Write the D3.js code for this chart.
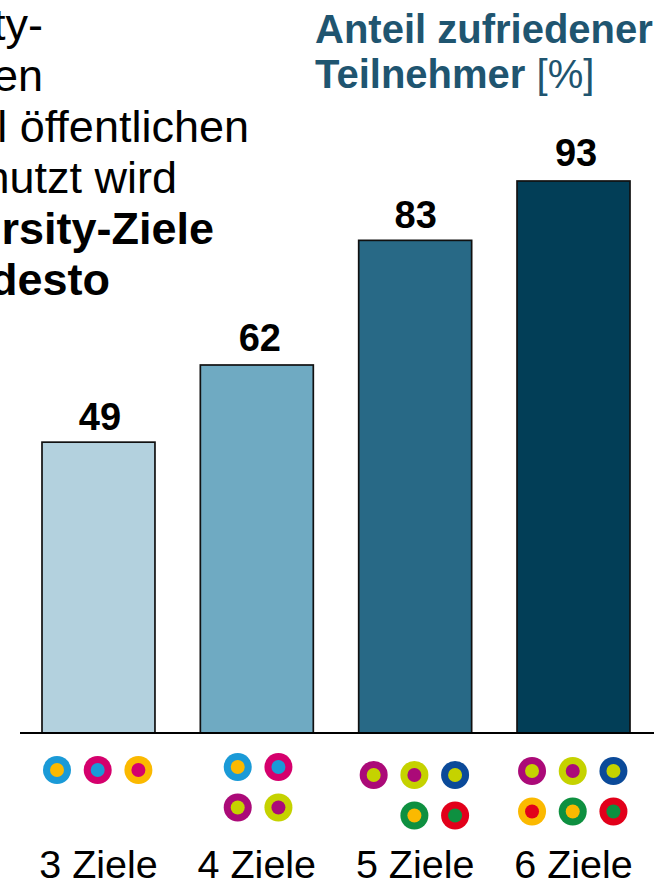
<!DOCTYPE html>
<html><head><meta charset="utf-8">
<script src="https://cdnjs.cloudflare.com/ajax/libs/d3/7.8.5/d3.min.js"></script>
<style>html,body{margin:0;padding:0;background:#fff;overflow:hidden}svg{display:block}text{font-family:"Liberation Sans",Arial,sans-serif}</style>
</head><body><svg id="c" width="666" height="881"></svg>
<script>
const categories = ["3 Ziele","4 Ziele","5 Ziele","6 Ziele"];
const barValues = [49,62,83,93];
const barColors = ["#b3d1de","#6faac2","#286986","#023e57"];
const titleBold = ["Anteil zufriedener","Teilnehmer"];
const titleUnit = "[%]";
const noteLines = ["ty-","en","l öffentlichen","nutzt wird","rsity-Ziele","desto"];
const noteBold = [false,false,false,false,true,true];
const noteRight = [43,43,249,177,214,110];
const goalDots = [
 [{c:0,r:0,o:"#1a9ad7",i:"#fbb900"},{c:1,r:0,o:"#d5006d",i:"#1a9ad7"},{c:2,r:0,o:"#fbb900",i:"#d5006d"}],
 [{c:.55,r:0,o:"#1a9ad7",i:"#fbb900"},{c:1.55,r:0,o:"#d5006d",i:"#1a9ad7"},{c:.55,r:1,o:"#ab0a78",i:"#c5d200"},{c:1.55,r:1,o:"#c5d200",i:"#ab0a78"}],
 [{c:0,r:0,o:"#ab0a78",i:"#c5d200"},{c:1,r:0,o:"#c5d200",i:"#ab0a78"},{c:2,r:0,o:"#0b4a99",i:"#c5d200"},{c:1,r:1,o:"#0e9040",i:"#fbb900"},{c:2,r:1,o:"#e2001a",i:"#0e9040"}],
 [{c:0,r:0,o:"#ab0a78",i:"#c5d200"},{c:1,r:0,o:"#c5d200",i:"#ab0a78"},{c:2,r:0,o:"#0b4a99",i:"#c5d200"},{c:0,r:1,o:"#fbb900",i:"#e2001a"},{c:1,r:1,o:"#0e9040",i:"#fbb900"},{c:2,r:1,o:"#e2001a",i:"#0e9040"}]
];
const dotTop = [770,767,775,771];
const labelShift = [1.5,3,0.5,2.5];
const labelLift = [12.5,14.5,12.5,15];

const svg = d3.select("#c");
const x = d3.scaleBand().domain(categories).range([42,630]).paddingInner(0.2866).paddingOuter(0);
const bw = x.bandwidth();
const y = d3.scaleLinear().domain([0,93]).range([733,181]);

svg.selectAll("rect.bar").data(categories).join("rect").attr("class","bar")
  .attr("x",d=>x(d)).attr("width",bw)
  .attr("y",(d,i)=>y(barValues[i])).attr("height",(d,i)=>y(0)-y(barValues[i]))
  .attr("fill",(d,i)=>barColors[i]).attr("stroke","#111").attr("stroke-width",1.7);

svg.append("line").attr("x1",20).attr("x2",654).attr("y1",y(0)).attr("y2",y(0)).attr("stroke","#000").attr("stroke-width",2);

svg.selectAll("text.val").data(categories).join("text").attr("class","val")
  .attr("x",(d,i)=>x(d)+bw/2+labelShift[i]).attr("y",(d,i)=>y(barValues[i])-labelLift[i])
  .attr("text-anchor","middle").attr("font-size",38).attr("font-weight","bold").attr("fill","#000")
  .text((d,i)=>barValues[i]);

svg.selectAll("text.cat").data(categories).join("text").attr("class","cat")
  .attr("x",d=>x(d)+bw/2).attr("y",878)
  .attr("text-anchor","middle").attr("font-size",39.5).attr("fill","#000").text(d=>d);

const dotX = d3.scaleLinear().domain([0,1]).range([15,55.7]);
const dotY = d3.scaleLinear().domain([0,1]).range([0,40.5]);
categories.forEach((cat,i)=>{
  const g = svg.append("g");
  const cx = d => x(cat)+dotX(d.c);
  const cy = d => dotTop[i]+dotY(d.r);
  g.selectAll("circle.o").data(goalDots[i]).join("circle").attr("class","o")
    .attr("cx",cx).attr("cy",cy).attr("r",14).attr("fill",d=>d.o);
  g.selectAll("circle.i").data(goalDots[i]).join("circle").attr("class","i")
    .attr("cx",cx).attr("cy",cy).attr("r",7).attr("fill",d=>d.i);
});

svg.selectAll("text.note").data(noteLines).join("text").attr("class","note")
  .attr("x",(d,i)=>noteRight[i]).attr("y",(d,i)=>40+i*51)
  .attr("text-anchor","end").attr("font-size",45).attr("fill","#000")
  .attr("font-weight",(d,i)=>noteBold[i]?"bold":"normal").text(d=>d);

const titleColor = "#1f5570";
svg.append("text").attr("x",315).attr("y",43).attr("font-size",40).attr("font-weight","bold").attr("fill",titleColor).text(titleBold[0]);
const t2 = svg.append("text").attr("x",315).attr("y",88).attr("font-size",40).attr("fill",titleColor);
t2.append("tspan").attr("font-weight","bold").text(titleBold[1]);
t2.append("tspan").text(" "+titleUnit);
</script></body></html>
